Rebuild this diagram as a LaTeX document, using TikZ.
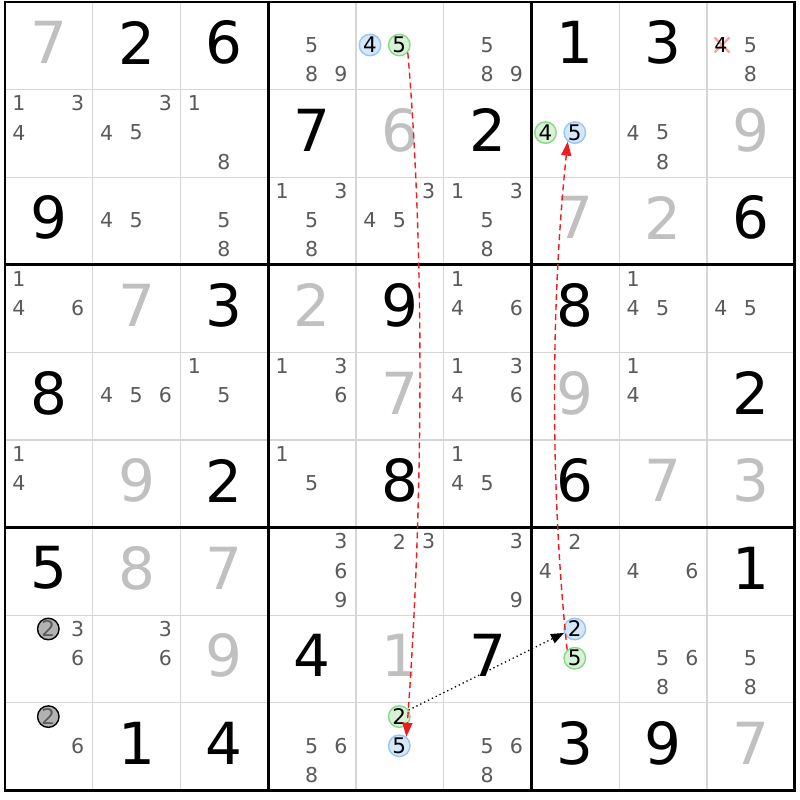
\documentclass[tikz,border=0pt]{standalone}
\usepackage{fontspec}
\setmainfont{DejaVu Sans}
\usetikzlibrary{arrows.meta,calc}
\definecolor{solvedc}{HTML}{C0C0C0}
\definecolor{candc}{HTML}{5A5A5A}
\definecolor{gridthin}{HTML}{D6D6D6}
\definecolor{bluefill}{HTML}{D5E7FA}
\definecolor{blueline}{HTML}{96C6F4}
\definecolor{greenfill}{HTML}{D8F2D8}
\definecolor{greenline}{HTML}{88D888}
\definecolor{chainred}{HTML}{EE1C1C}
\definecolor{graydot}{HTML}{B2B2B2}
\definecolor{crossc}{HTML}{F4A2A2}
\begin{document}
\begin{tikzpicture}[x=1pt,y=-1pt,
  bigdigit/.style={font=\fontsize{58}{58}\selectfont, inner sep=0pt, anchor=center},
  givenstyle/.style={bigdigit, text=black},
  solvedstyle/.style={bigdigit, text=solvedc},
  cand/.style={font=\fontsize{20.5}{20.5}\selectfont, text=candc, inner sep=0pt, anchor=center},
  mark circle/.style={circle, minimum size=21.5pt, inner sep=0pt, line width=1.4pt,
     font=\fontsize{21.5}{21.5}\selectfont, text=black},
  bluec/.style={mark circle, draw=blueline, fill=bluefill},
  greenc/.style={mark circle, draw=greenline, fill=greenfill},
  grayc/.style={mark circle, draw=black, fill=graydot, text=candc},
  chain/.style={draw=chainred, line width=1.4pt, dash pattern=on 6pt off 4pt,
     -{Triangle[length=14pt,width=10pt,fill=chainred]}},
  link/.style={draw=black, line width=1.3pt, dash pattern=on 1.3pt off 3pt,
     -{Triangle[length=13pt,width=10pt,fill=black]}},
  thinline/.style={draw=gridthin, line width=1.3pt},
  thickline/.style={draw=black, line width=2.8pt}
]
\fill[white] (0,0) rectangle (800,800);
\useasboundingbox (0,0) rectangle (800,800);

% grid
\foreach \i in {1,2,4,5,7,8} {
  \draw[thinline] ({5+87.75*\i},2) -- ({5+87.75*\i},790.4);
  \draw[thinline] (5,{2+87.6*\i}) -- (794.75,{2+87.6*\i});
}
\foreach \i in {0,3,6,9} {
  \draw[thickline] ({5+87.75*\i},0.6) -- ({5+87.75*\i},791.8);
  \draw[thickline] (3.6,{2+87.6*\i}) -- (796.15,{2+87.6*\i});
}

% given digits
\foreach \r/\c/\d in {1/2/2,1/3/6,1/7/1,1/8/3,2/4/7,2/6/2,3/1/9,3/9/6,4/3/3,4/5/9,4/7/8,
  5/1/8,5/9/2,6/3/2,6/5/8,6/7/6,7/1/5,7/9/1,8/4/4,8/6/7,9/2/1,9/3/4,9/7/3,9/8/9} {
  \node[givenstyle] (g\r\c) at ({5+87.75*(\c-1)+43.9},{2+87.6*(\r-1)+40.6}) {\d};
}
% solved digits
\foreach \r/\c/\d in {1/1/7,2/5/6,2/9/9,3/7/7,3/8/2,4/2/7,4/4/2,5/5/7,5/7/9,6/2/9,6/8/7,
  6/9/3,7/2/8,7/3/7,8/3/9,8/5/1,9/9/7} {
  \node[solvedstyle] (s\r\c) at ({5+87.75*(\c-1)+43.9},{2+87.6*(\r-1)+40.6}) {\d};
}

% candidates
\foreach \r/\c/\L in {1/4/{5,8,9},1/6/{5,8,9},1/9/{5,8},
  2/1/{1,3,4},2/2/{3,4,5},2/3/{1,8},2/8/{4,5,8},
  3/2/{4,5},3/3/{5,8},3/4/{1,3,5,8},3/5/{3,4,5},3/6/{1,3,5,8},
  4/1/{1,4,6},4/6/{1,4,6},4/8/{1,4,5},4/9/{4,5},
  5/2/{4,5,6},5/3/{1,5},5/4/{1,3,6},5/6/{1,3,4,6},5/8/{1,4},
  6/1/{1,4},6/4/{1,5},6/6/{1,4,5},
  7/4/{3,6,9},7/5/{2,3},7/6/{3,9},7/7/{2,4},7/8/{4,6},
  8/1/{3,6},8/2/{3,6},8/8/{5,6,8},8/9/{5,8},
  9/1/{6},9/4/{5,6,8},9/6/{5,6,8}} {
  \foreach \k in \L {
    \pgfmathsetmacro\px{5+87.75*(\c-1)+14+29.3*mod(\k-1,3)}
    \pgfmathsetmacro\py{2+87.6*(\r-1)+13.8+29.2*int((\k-1)/3)}
    \node[cand] (c\r\c\k) at (\px,\py) {\k};
  }
}

% crossed candidate 4 in r1c9
\coordinate (x194c) at ({5+87.75*8+15},{2+13.8+29.2});
\draw[crossc, line width=2.2pt] ($(x194c)+(-7.5,-7.5)$) -- ($(x194c)+(7.5,7.5)$);
\draw[crossc, line width=2.2pt] ($(x194c)+(-7.5,7.5)$) -- ($(x194c)+(7.5,-7.5)$);
\node[cand, text=black] (x194) at ({5+87.75*8+14},{2+13.8+29.2}) {4};

% marked candidates
\node[bluec]  (b1) at ({5+87.75*4+14},{2+13.8+29.2}) {4};
\node[greenc] (g1) at ({5+87.75*4+43.3},{2+13.8+29.2}) {5};
\node[greenc] (a2) at ({5+87.75*6+14},{2+87.6+13.8+29.2}) {4};
\node[bluec]  (b2) at ({5+87.75*6+43.3},{2+87.6+13.8+29.2}) {5};
\node[bluec]  (b8) at ({5+87.75*6+43.3},{2+87.6*7+13.8}) {2};
\node[greenc] (g8) at ({5+87.75*6+43.3},{2+87.6*7+13.8+29.2}) {5};
\node[greenc] (g9) at ({5+87.75*4+43.3},{2+87.6*8+13.8}) {2};
\node[bluec]  (b9) at ({5+87.75*4+43.3},{2+87.6*8+13.8+29.2}) {5};
\node[grayc]  (k8) at ({5+43.3},{2+87.6*7+13.8}) {2};
\node[grayc]  (k9) at ({5+43.3},{2+87.6*8+13.8}) {2};

% chains
\draw[chain] (g1.-42) .. controls +(17,200) and +(17,-230) .. (b9.52);
\draw[chain] (g8.132) .. controls +(-17,-160) and +(-17,160) .. (b2.232);
\draw[link] (g9.35) -- (b8.200);
\end{tikzpicture}
\end{document}
